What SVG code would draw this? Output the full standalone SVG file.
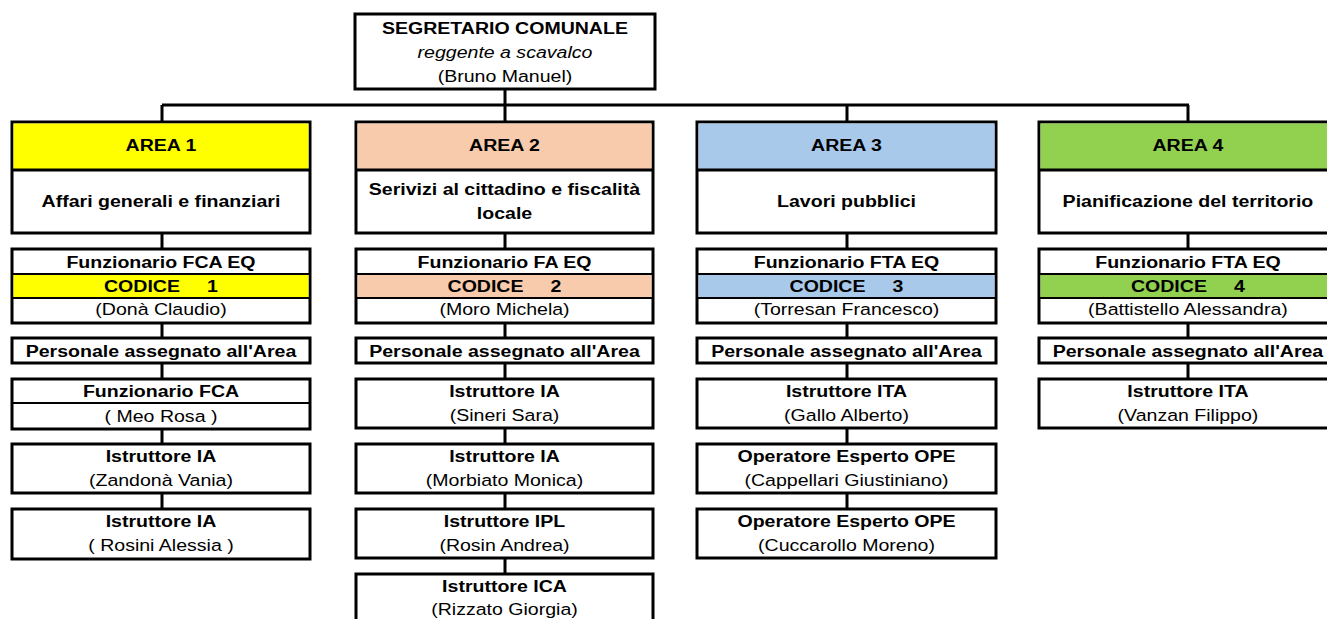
<svg xmlns="http://www.w3.org/2000/svg" width="1327" height="619" viewBox="0 0 1327 619">
<style>
.b{fill:#fff;stroke:#000;stroke-width:3}
.d{stroke:#000;stroke-width:2}
.c{stroke:#000;stroke-width:3;fill:none}
text{font-family:"Liberation Sans",Arial,sans-serif;font-size:17px;text-anchor:middle;fill:#000}
.t{font-weight:bold}
.i{font-style:italic}
.p{white-space:pre}
.y{fill:#FFFF00}.o{fill:#F8CBAD}.u{fill:#A9C9EB}.g{fill:#92D050}
</style>
<g id="connectors">
<path class="c" d="M505 89V105M162 105H1189M162 105V122M505 105V122M847 105V122M1188 105V122"/>
<path class="c" d="M162 233V509M505 233V574M847 233V509M1188 233V379"/>
</g>
<g id="segretario">
<rect class="b" x="355" y="14" width="300" height="75"/>
<g transform="scale(1.15,1)"><text class="t" x="439.1" y="34">SEGRETARIO COMUNALE</text><text class="i" x="439.1" y="58">reggente a scavalco</text><text x="439.1" y="82">(Bruno Manuel)</text></g>
</g>
<g id="area1">
<rect class="b" x="12" y="122" width="298" height="111"/><rect class="y" x="13.5" y="123.5" width="295" height="46.5"/><line class="c" x1="12" y1="170" x2="310" y2="170"/>
<g transform="scale(1.15,1)"><text class="t" x="140" y="151">AREA 1</text><text class="t" x="140" y="207">Affari generali e finanziari</text></g>
</g>
<g id="area2">
<rect class="b" x="356" y="122" width="297" height="111"/><rect class="o" x="357.5" y="123.5" width="294" height="46.5"/><line class="c" x1="356" y1="170" x2="653" y2="170"/>
<g transform="scale(1.15,1)"><text class="t" x="438.7" y="151">AREA 2</text><text class="t" x="438.7" y="195">Serivizi al cittadino e fiscalità</text><text class="t" x="438.7" y="219">locale</text></g>
</g>
<g id="area3">
<rect class="b" x="697" y="122" width="299" height="111"/><rect class="u" x="698.5" y="123.5" width="296" height="46.5"/><line class="c" x1="697" y1="170" x2="996" y2="170"/>
<g transform="scale(1.15,1)"><text class="t" x="736.1" y="151">AREA 3</text><text class="t" x="736.1" y="207">Lavori pubblici</text></g>
</g>
<g id="area4">
<rect class="b" x="1039" y="122" width="298" height="111"/><rect class="g" x="1040.5" y="123.5" width="295" height="46.5"/><line class="c" x1="1039" y1="170" x2="1337" y2="170"/>
<g transform="scale(1.15,1)"><text class="t" x="1033" y="151">AREA 4</text><text class="t" x="1033" y="207">Pianificazione del territorio</text></g>
</g>
<g id="eq1">
<rect class="b" x="12" y="249" width="298" height="74"/><rect class="y" x="13.5" y="274" width="295" height="24"/><path class="d" d="M12 274H310M12 298H310"/>
<g transform="scale(1.15,1)"><text class="t" x="140" y="268">Funzionario FCA EQ</text><text class="t p" x="140" y="292">CODICE     1</text><text x="140" y="315">(Donà Claudio)</text></g>
</g>
<g id="eq2">
<rect class="b" x="356" y="249" width="297" height="74"/><rect class="o" x="357.5" y="274" width="294" height="24"/><path class="d" d="M356 274H653M356 298H653"/>
<g transform="scale(1.15,1)"><text class="t" x="438.7" y="268">Funzionario FA EQ</text><text class="t p" x="438.7" y="292">CODICE     2</text><text x="438.7" y="315">(Moro Michela)</text></g>
</g>
<g id="eq3">
<rect class="b" x="697" y="249" width="299" height="74"/><rect class="u" x="698.5" y="274" width="296" height="24"/><path class="d" d="M697 274H996M697 298H996"/>
<g transform="scale(1.15,1)"><text class="t" x="736.1" y="268">Funzionario FTA EQ</text><text class="t p" x="736.1" y="292">CODICE     3</text><text x="736.1" y="315">(Torresan Francesco)</text></g>
</g>
<g id="eq4">
<rect class="b" x="1039" y="249" width="298" height="74"/><rect class="g" x="1040.5" y="274" width="295" height="24"/><path class="d" d="M1039 274H1337M1039 298H1337"/>
<g transform="scale(1.15,1)"><text class="t" x="1033" y="268">Funzionario FTA EQ</text><text class="t p" x="1033" y="292">CODICE     4</text><text x="1033" y="315">(Battistello Alessandra)</text></g>
</g>
<g id="pers1"><rect class="b" x="12" y="338" width="298" height="25"/><g transform="scale(1.15,1)"><text class="t" x="140" y="357">Personale assegnato all'Area</text></g></g>
<g id="pers2"><rect class="b" x="356" y="338" width="297" height="25"/><g transform="scale(1.15,1)"><text class="t" x="438.7" y="357">Personale assegnato all'Area</text></g></g>
<g id="pers3"><rect class="b" x="697" y="338" width="299" height="25"/><g transform="scale(1.15,1)"><text class="t" x="736.1" y="357">Personale assegnato all'Area</text></g></g>
<g id="pers4"><rect class="b" x="1039" y="338" width="298" height="25"/><g transform="scale(1.15,1)"><text class="t" x="1033" y="357">Personale assegnato all'Area</text></g></g>
<g id="a1p1"><rect class="b" x="12" y="379" width="298" height="50"/><path class="d" d="M12 403H310"/><g transform="scale(1.15,1)"><text class="t" x="140" y="397">Funzionario FCA</text><text x="140" y="422">( Meo Rosa )</text></g></g>
<g id="a1p2"><rect class="b" x="12" y="444" width="298" height="49"/><g transform="scale(1.15,1)"><text class="t" x="140" y="462">Istruttore IA</text><text x="140" y="486">(Zandonà Vania)</text></g></g>
<g id="a1p3"><rect class="b" x="12" y="509" width="298" height="50"/><g transform="scale(1.15,1)"><text class="t" x="140" y="527">Istruttore IA</text><text x="140" y="551">( Rosini Alessia )</text></g></g>
<g id="a2p1"><rect class="b" x="356" y="379" width="297" height="49"/><g transform="scale(1.15,1)"><text class="t" x="438.7" y="397">Istruttore IA</text><text x="438.7" y="421">(Sineri Sara)</text></g></g>
<g id="a2p2"><rect class="b" x="356" y="444" width="297" height="49"/><g transform="scale(1.15,1)"><text class="t" x="438.7" y="462">Istruttore IA</text><text x="438.7" y="486">(Morbiato Monica)</text></g></g>
<g id="a2p3"><rect class="b" x="356" y="509" width="297" height="49"/><g transform="scale(1.15,1)"><text class="t" x="438.7" y="527">Istruttore IPL</text><text x="438.7" y="551">(Rosin Andrea)</text></g></g>
<g id="a2p4"><rect class="b" x="356" y="574" width="297" height="60"/><g transform="scale(1.15,1)"><text class="t" x="438.7" y="592">Istruttore ICA</text><text x="438.7" y="615">(Rizzato Giorgia)</text></g></g>
<g id="a3p1"><rect class="b" x="697" y="379" width="299" height="49"/><g transform="scale(1.15,1)"><text class="t" x="736.1" y="397">Istruttore ITA</text><text x="736.1" y="421">(Gallo Alberto)</text></g></g>
<g id="a3p2"><rect class="b" x="697" y="444" width="299" height="49"/><g transform="scale(1.15,1)"><text class="t" x="736.1" y="462">Operatore Esperto OPE</text><text x="736.1" y="486">(Cappellari Giustiniano)</text></g></g>
<g id="a3p3"><rect class="b" x="697" y="509" width="299" height="49"/><g transform="scale(1.15,1)"><text class="t" x="736.1" y="527">Operatore Esperto OPE</text><text x="736.1" y="551">(Cuccarollo Moreno)</text></g></g>
<g id="a4p1"><rect class="b" x="1039" y="379" width="298" height="49"/><g transform="scale(1.15,1)"><text class="t" x="1033" y="397">Istruttore ITA</text><text x="1033" y="421">(Vanzan Filippo)</text></g></g>
</svg>
